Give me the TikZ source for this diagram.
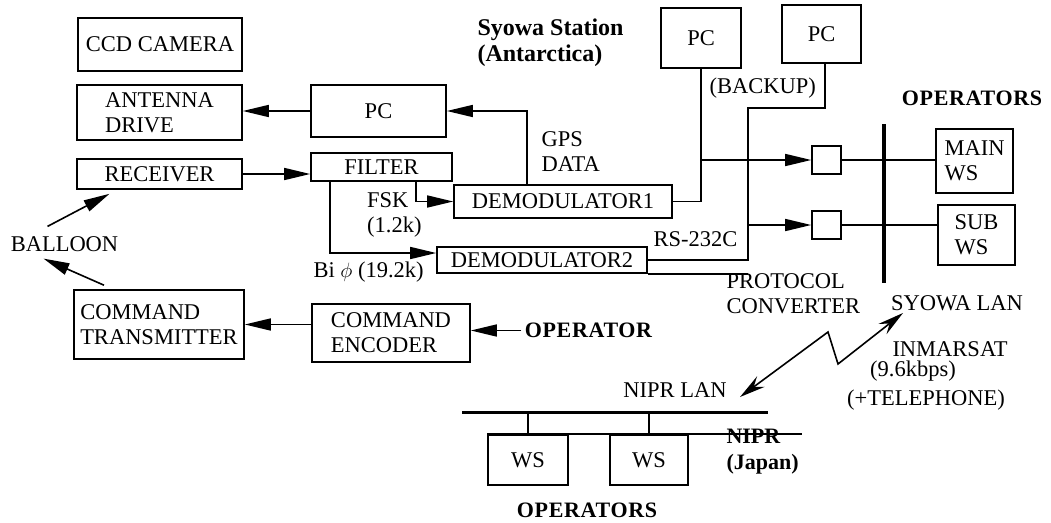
\documentclass[tikz,border=0pt]{standalone}
\usepackage{fontspec}
\setmainfont{Liberation Serif}
\newfontfamily\opfont[LetterSpace=3]{Liberation Serif}
\usetikzlibrary{arrows.meta}
\begin{document}
\begin{tikzpicture}[x=1pt,y=-1pt,
  every node/.style={font=\fontsize{22.5}{25}\selectfont},
  box/.style={draw, line width=1.6pt, inner sep=0pt, align=center},
  ln/.style={line width=1.6pt},
  arr/.style={ln, -{Triangle[length=26pt,width=12pt]}},
  boldtxt/.style={font=\fontsize{22}{26}\selectfont\bfseries},
  opstyle/.style={font=\fontsize{22}{26}\selectfont\opfont\bfseries},
  zig/.style={ln, {Stealth[length=26pt,width=13pt,inset=9pt]}-{Stealth[length=26pt,width=13pt,inset=9pt]}},
]
\useasboundingbox (0,0) rectangle (1051,522);
% boxes
\node[box, minimum width=164pt, minimum height=53pt] (ccd) at (160,44.5) {CCD CAMERA};
\node[box, minimum width=165pt, minimum height=55pt, align=left] (ant) at (159.5,112.5) {ANTENNA\\DRIVE};
\node[box, minimum width=165pt, minimum height=30pt] (rec) at (159.5,174) {RECEIVER};
\node[box, minimum width=135pt, minimum height=52pt] (pcl) at (378.5,111) {PC};
\node[box, minimum width=141pt, minimum height=28pt] (fil) at (381.5,167) {FILTER};
\node[box, minimum width=218pt, minimum height=33pt] (dm1) at (563,201.5) {DEMODULATOR1};
\node[box, minimum width=210pt, minimum height=26pt] (dm2) at (542,260) {DEMODULATOR2};
\node[box, minimum width=80pt, minimum height=60pt] (pc1) at (701,38) {PC};
\node[box, minimum width=79pt, minimum height=58pt] (pc2) at (821.5,34) {PC};
\node[box, minimum width=29pt, minimum height=28pt] (sb1) at (826.5,160) {};
\node[box, minimum width=29pt, minimum height=28pt] (sb2) at (826.5,225) {};
\node[box, minimum width=77pt, minimum height=64pt, align=left] (mws) at (974.5,161) {MAIN\\WS};
\node[box, minimum width=77pt, minimum height=60pt, align=left] (sws) at (976.5,235) {SUB\\WS};
\node[box, minimum width=170pt, minimum height=69pt, align=left] (ctx) at (159,324.5) {COMMAND\\TRANSMITTER};
\node[box, minimum width=158pt, minimum height=58pt, align=left] (cen) at (391,333) {COMMAND\\ENCODER};
\node[box, minimum width=80pt, minimum height=50pt] (ws1) at (528,460) {WS};
\node[box, minimum width=78pt, minimum height=50pt] (ws2) at (649,460) {WS};
% labels
\node[anchor=west, align=left, font=\fontsize{24}{26}\selectfont\bfseries] (syo) at (474,43) {Syowa Station\\(Antarctica)};
\node[anchor=west, align=left] (gps) at (538,152) {GPS\\DATA};
\node[anchor=west, align=left, inner sep=0pt] (fsk) at (367,215) {FSK\\(1.2k)};
\node[anchor=west] (bi) at (310,272) {Bi $\phi$ (19.2k)};
\node[anchor=west] (rs) at (650,239) {RS-232C};
\node[anchor=west] (bak) at (706,88) {(BACKUP)};
\node[opstyle] (opt) at (972,98.5) {OPERATORS};
\node[anchor=west, align=left] (pcv) at (723,294) {PROTOCOL\\CONVERTER};
\node (slan) at (957,303) {SYOWA LAN};
\node (inm) at (950,349.5) {INMARSAT};
\node (kbps) at (913,371) {(9.6kbps)};
\node (tel) at (926,400) {(+TELEPHONE)};
\node (nlan) at (675,390) {NIPR LAN};
\node[boldtxt, anchor=west, align=left] (nipr) at (723,452) {NIPR\\(Japan)};
\node[opstyle] (opb) at (587,510) {OPERATORS};
\node[opstyle] (op) at (588.5,330.5) {OPERATOR};
\node (bal) at (64.5,244.5) {BALLOON};
% connectors
\draw[arr] (pcl.west) -- (pcl.west -| ant.east);
\draw[arr] (rec.east) -- (rec.east -| fil.west);
\draw[arr] ([xshift=-36pt]dm1.north) |- (pcl.east);
\draw[arr] ([xshift=34.5pt]fil.south) |- (dm1.west);
\draw[arr] ([xshift=-51.5pt]fil.south) |- ([yshift=7pt]dm2.west);
\draw[ln] (dm1.east) -| (pc1.south);
\draw[arr] (pc1.south |- sb1.west) -- (sb1.west);
\coordinate (pt) at (748,108);
\draw[ln] ([xshift=3.5pt]pc2.south) |- (pt) -- (pt |- dm2.east) -- (dm2.east);
\draw[arr] (pt |- sb2.west) -- (sb2.west);
\draw[ln] (dm2.south east) -- (dm2.south east -| pt);
\draw[ln] (sb1.east) -- (sb1.east -| mws.west);
\draw[ln] (sb2.east) -- (sb2.east -| sws.west);
\coordinate (lt) at (884,124);
\coordinate (lb) at (884,283);
\draw[line width=3.5pt] (lt) -- (lb);
\draw[arr] (ctx.east -| cen.west) -- (ctx.east);
\draw[arr] (op.west) -- (op.west -| cen.east);
\draw[arr] ([xshift=-17pt,yshift=7pt]bal.north) -- ([xshift=-50pt,yshift=-4pt]rec.south);
\draw[arr] ([xshift=-55pt,yshift=4pt]ctx.north) -- ([xshift=-21pt,yshift=-3pt]bal.south);
% INMARSAT link
\coordinate (ia) at (740,397);
\coordinate (z1) at (828,332);
\coordinate (z2) at (838,364);
\coordinate (ib) at (903,313);
\draw[zig] (ia) -- (z1) -- (z2) -- (ib);
% NIPR LAN
\coordinate (n1) at (462,412);
\coordinate (n2) at (768,412);
\draw[line width=3pt] (n1) -- (n2);
\draw[ln] (ws1.north |- n1) -- (ws1.north);
\draw[ln] (ws2.north |- n1) -- (ws2.north);
\coordinate (nj) at (802,435);
\draw[ln] (ws1.north west) -- (nj |- ws1.north west);
\end{tikzpicture}
\end{document}
